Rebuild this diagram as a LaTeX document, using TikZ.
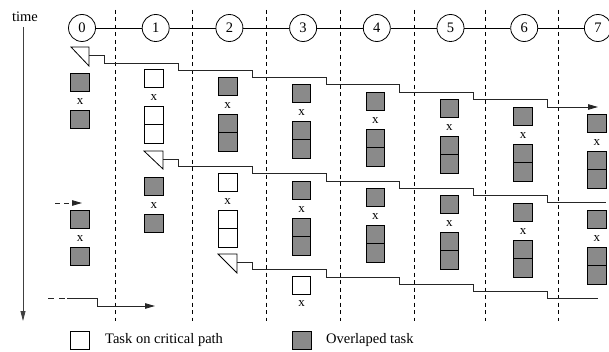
\documentclass[tikz,border=0pt]{standalone}
\usepackage{fontspec}
\setmainfont{Liberation Serif}
\usetikzlibrary{arrows.meta}
\definecolor{boxgray}{RGB}{138,138,138}
\begin{document}
\begin{tikzpicture}[x=1pt,y=-1pt,
  task/.style={draw=black, line width=0.8pt, minimum width=18.5pt, minimum height=18.5pt, inner sep=0pt, outer sep=0pt},
  crit/.style={task, fill=white},
  ovl/.style={task, fill=boxgray},
  xlab/.style={font=\fontsize{13}{13}\selectfont, inner sep=0pt},
  stepnum/.style={circle, draw, line width=0.8pt, minimum size=27pt, inner sep=0pt, font=\fontsize{14.5}{15}\selectfont},
  sep/.style={dash pattern=on 4pt off 3.5pt, line width=0.8pt},
  thread/.style={line width=0.8pt, black!85},
  tri/.style={line width=0.8pt},
  tip/.style={-{Triangle[length=10pt,width=5.5pt]}},
  legend/.style={font=\fontsize{14.5}{15}\selectfont, anchor=west, inner sep=0pt}
]
\useasboundingbox (0,0) rectangle (609,352);

% time axis
\node[font=\fontsize{14.5}{15}\selectfont, inner sep=0pt] (time) at (25,17) {time};
\coordinate (tstart) at (23,27);
\coordinate (tend) at (23,321);
\draw[line width=0.8pt, black!75, -{Triangle[length=10pt,width=5pt]}] (tstart) -- (tend);

% separators
\foreach \x [count=\i] in {115,192.5,266.7,340,414,485,558} {
  \coordinate (s\i t) at (\x,10);
  \coordinate (s\i b) at (\x,321);
  \draw[sep] (s\i t) -- (s\i b);
}

% step circles
\foreach \c in {0,...,7} {
  \node[stepnum] (n\c) at ({82+73.7*\c},28) {\c};
}
\foreach \a/\b in {0/1,1/2,2/3,3/4,4/5,5/6,6/7} {
  \draw[line width=0.8pt] (n\a) -- (n\b);
}

% groups: box, x, double box
\foreach \c/\T/\s/\n in {1/69/crit/a, 2/77/ovl/a, 3/84/ovl/a, 4/92/ovl/a, 5/99/ovl/a, 6/107/ovl/a, 7/114/ovl/a,
                          2/173/crit/b, 3/181/ovl/b, 4/188/ovl/b, 5/195/ovl/b, 6/203/ovl/b, 7/210/ovl/b} {
  \node[\s, anchor=north] (\n\c t) at ({80+73.85*\c},\T) {};
  \node[xlab] (\n\c x) at ({80+73.85*\c},\T+28.5) {x};
  \node[\s, anchor=north] (\n\c m) at ({80+73.85*\c},\T+37) {};
  \node[\s, anchor=north] (\n\c l) at (\n\c m.south) {};
}
% groups: box, x, box
\foreach \c/\T/\n in {0/73/a, 1/177/b, 0/210/c} {
  \node[ovl, anchor=north] (\n\c t) at ({80+73.85*\c},\T) {};
  \node[xlab] (\n\c x) at ({80+73.85*\c},\T+28.5) {x};
  \node[ovl, anchor=north] (\n\c m) at ({80+73.85*\c},\T+37) {};
}
% single critical task
\node[crit, anchor=north] (d3t) at (301.5,276) {};
\node[xlab] (d3x) at (301.5,304) {x};

% triangles
\draw[tri] (71,47) -- (89,47) -- (89,66) -- cycle;
\draw[tri] (144,151) -- (163,151) -- (163,169) -- cycle;
\draw[tri] (218,254) -- (237,254) -- (237,273) -- cycle;
\coordinate (ta) at (89,55);
\coordinate (tb) at (163,159);
\coordinate (tc) at (237,262);
\coordinate (ea) at (598,107);
\coordinate (eb) at (606,202);
\coordinate (ec) at (598,298);

% staircase lines
\draw[thread, tip] (ta) -- (104,55) -- (104,63) -- (178,63) -- (178,70) -- (252,70) -- (252,77)
  -- (326,77) -- (326,84) -- (399,84) -- (399,92) -- (473,92) -- (473,99) -- (547,99) -- (547,107) -- (ea);
\draw[thread] (tb) -- (178,159) -- (178,166) -- (252,166) -- (252,173) -- (326,173) -- (326,181)
  -- (399,181) -- (399,188) -- (473,188) -- (473,195) -- (547,195) -- (547,202) -- (eb);
\draw[thread] (tc) -- (252,262) -- (252,269) -- (326,269) -- (326,277) -- (399,277) -- (399,284)
  -- (473,284) -- (473,291) -- (547,291) -- (547,298) -- (ec);

% incoming lines at column 0
\coordinate (ia) at (55,203);
\coordinate (ib) at (82,203);
\draw[thread, dash pattern=on 5pt off 4pt, tip] (ia) -- (ib);
\coordinate (ic) at (48,298);
\coordinate (id) at (67,298);
\coordinate (ie) at (155,306);
\draw[thread, dash pattern=on 6pt off 5pt] (ic) -- (id);
\draw[thread, tip] (id) -- (97,298) -- (97,306) -- (ie);

% legend
\node[crit] (l1) at (80,340.5) {};
\node[legend] (l1t) at (105,340.5) {Task on critical path};
\node[ovl] (l2) at (302,340.5) {};
\node[legend] (l2t) at (326,340.5) {Overlaped task};
\end{tikzpicture}
\end{document}
